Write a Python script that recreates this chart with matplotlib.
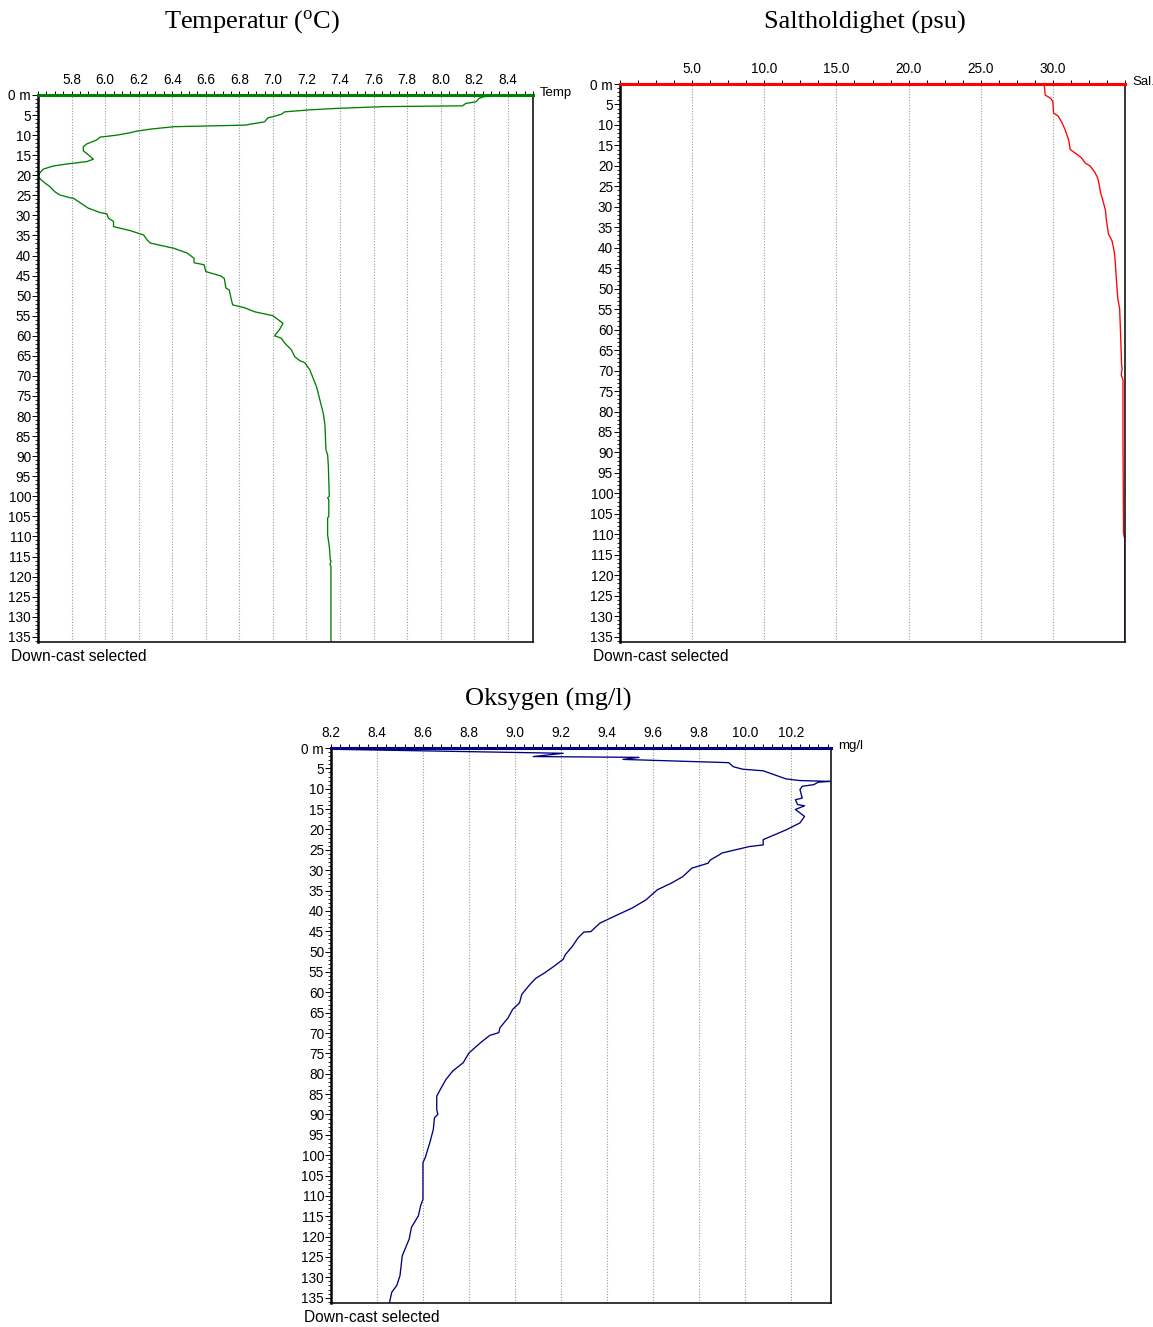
'''
CTD profile plots: temperature, salinity and oxygen against depth
'''
import matplotlib
matplotlib.use('Agg')
import matplotlib.pyplot as plt
from matplotlib.ticker import MultipleLocator

plt.rcParams['font.family'] = ['Liberation Sans', 'DejaVu Sans']
plt.rcParams['mathtext.fontset'] = 'custom'
plt.rcParams['mathtext.rm'] = 'Liberation Serif'

# Temperature profile (depth m, deg C)
temp_depth = [0.0, 0.4, 0.8, 1.7, 2.1, 2.7, 2.9, 3.3, 3.7, 4.2, 4.8, 5.4, 5.7, 6.7,
              7.3, 7.5, 7.9, 8.5, 9.0, 9.4, 10.0, 10.5, 11.2, 12.2, 12.9, 13.9, 14.9,
              16.0, 16.6, 17.2, 17.7, 18.5, 19.5, 20.3, 21.2, 22.2, 22.8, 24.1, 24.9,
              25.6, 25.7, 28.2, 29.3, 29.6, 30.7, 31.5, 32.8, 33.8, 34.9, 36.1, 36.9,
              38.2, 39.4, 40.7, 41.8, 42.3, 44.0, 45.1, 45.7, 48.1, 48.6, 50.6, 52.3,
              53.0, 54.0, 55.0, 56.9, 58.4, 60.0, 60.6, 61.8, 63.5, 65.2, 66.2, 66.7,
              68.5, 72.7, 76.0, 79.3, 82.2, 84.3, 88.4, 89.7, 92.1, 100.0, 100.4,
              100.8, 105.0, 105.4, 109.6, 112.5, 115.8, 116.2, 117.0, 117.5, 136.3]
temp_values = [8.50, 8.26, 8.23, 8.21, 8.15, 8.13, 7.66, 7.40, 7.22, 7.07, 7.05, 7.00,
               6.97, 6.95, 6.86, 6.84, 6.41, 6.27, 6.19, 6.15, 6.07, 5.97, 5.95, 5.89,
               5.87, 5.87, 5.90, 5.93, 5.89, 5.77, 5.69, 5.63, 5.61, 5.60, 5.62, 5.65,
               5.67, 5.70, 5.73, 5.79, 5.81, 5.90, 5.97, 6.01, 6.02, 6.05, 6.05, 6.15,
               6.23, 6.25, 6.27, 6.41, 6.49, 6.53, 6.53, 6.59, 6.60, 6.69, 6.71, 6.72,
               6.74, 6.75, 6.76, 6.83, 6.89, 7.00, 7.06, 7.04, 7.01, 7.05, 7.07, 7.11,
               7.13, 7.16, 7.19, 7.22, 7.26, 7.28, 7.30, 7.31, 7.312, 7.316, 7.326,
               7.33, 7.336, 7.326, 7.333, 7.333, 7.326, 7.326, 7.336, 7.342, 7.346,
               7.34, 7.346, 7.346]

# Salinity profile (depth m, psu)
sal_depth = [0.0, 2.7, 3.5, 4.3, 7.1, 7.8, 9.2, 11.2, 13.7, 16.0, 17.0, 18.0, 19.3,
             20.1, 21.5, 22.9, 24.4, 26.4, 28.9, 30.9, 33.0, 36.6, 38.3, 40.5, 42.3,
             47.5, 52.4, 54.9, 61.8, 68.3, 69.5, 71.1, 72.3, 87.0, 109.8, 111.4, 136.3]
sal_values = [29.4, 29.47, 29.85, 30.0, 30.05, 30.35, 30.6, 30.85, 31.1, 31.2, 31.6,
              31.97, 32.25, 32.6, 32.9, 33.1, 33.2, 33.3, 33.5, 33.65, 33.7, 33.85,
              34.1, 34.23, 34.3, 34.4, 34.5, 34.63, 34.7, 34.76, 34.8, 34.74, 34.86,
              34.86, 34.9, 35.0, 35.0]

# Oxygen profile (depth m, mg/l)
oxy_depth = [0.3, 1.3, 2.1, 2.3, 2.8, 3.6, 4.6, 5.2, 5.6, 7.6, 8.0, 8.2, 8.4, 9.0,
             9.4, 10.2, 12.3, 12.7, 13.9, 14.2, 15.1, 16.8, 18.4, 20.1, 22.5, 23.8,
             24.2, 25.4, 25.8, 26.2, 27.5, 28.3, 29.5, 31.6, 33.2, 34.8, 37.3, 39.3,
             41.4, 43.0, 45.1, 45.2, 46.6, 48.7, 50.7, 51.9, 53.6, 55.2, 56.6, 58.1,
             60.5, 62.6, 64.2, 66.3, 68.7, 69.9, 70.6, 72.4, 74.9, 77.3, 79.3, 81.4,
             83.4, 85.5, 88.8, 90.0, 90.8, 93.7, 96.9, 100.6, 101.8, 103.9, 110.8,
             112.4, 114.9, 117.7, 120.6, 124.7, 129.6, 132.0, 133.7, 136.3]
oxy_values = [8.20, 9.21, 9.08, 9.54, 9.47, 9.93, 9.95, 9.99, 10.08, 10.18, 10.24,
              10.37, 10.32, 10.30, 10.25, 10.24, 10.25, 10.22, 10.23, 10.26, 10.22,
              10.26, 10.24, 10.18, 10.08, 10.08, 10.02, 9.93, 9.90, 9.89, 9.85, 9.84,
              9.77, 9.73, 9.68, 9.62, 9.57, 9.51, 9.43, 9.37, 9.33, 9.30, 9.275, 9.25,
              9.22, 9.21, 9.17, 9.13, 9.09, 9.065, 9.03, 9.02, 8.99, 8.97, 8.935,
              8.93, 8.89, 8.85, 8.80, 8.775, 8.73, 8.70, 8.68, 8.66, 8.66, 8.665,
              8.65, 8.645, 8.63, 8.61, 8.60, 8.60, 8.60, 8.59, 8.58, 8.55, 8.54,
              8.51, 8.50, 8.486, 8.464, 8.454]

depth_ticks = list(range(0, 136, 5))
depth_labels = ['0 m'] + [str(d) for d in depth_ticks[1:]]

temp_ticks = [5.8, 6.0, 6.2, 6.4, 6.6, 6.8, 7.0, 7.2, 7.4, 7.6, 7.8, 8.0, 8.2, 8.4]
sal_ticks = [5.0, 10.0, 15.0, 20.0, 25.0, 30.0]
oxy_ticks = [8.2, 8.4, 8.6, 8.8, 9.0, 9.2, 9.4, 9.6, 9.8, 10.0, 10.2]

W, H = 1153, 1327
fig = plt.figure(figsize=(W / 100, H / 100), dpi=100)


def px_rect(left, top, right, bottom):
    # pixel box -> figure fraction
    return [left / W, 1 - bottom / H, (right - left) / W, (bottom - top) / H]


def profile(box, depth, values, xlim, ticks, minor, color, unit, title, title_xy):
    ax = fig.add_axes(px_rect(*box))
    ax.plot(values, depth, color=color, lw=0.95)
    ax.set_xlim(xlim)
    ax.set_ylim(136.3, 0)

    ax.xaxis.tick_top()
    ax.set_xticks(ticks)
    ax.set_xticklabels(['%.1f' % t for t in ticks])
    ax.xaxis.set_minor_locator(MultipleLocator(minor))
    ax.set_yticks(depth_ticks)
    ax.set_yticklabels(depth_labels)
    ax.yaxis.set_minor_locator(MultipleLocator(1))

    ax.tick_params(axis='x', which='both', direction='out', length=3, width=0.7,
                   labelsize=9.8, pad=3)
    ax.tick_params(axis='y', which='major', direction='out', length=4, width=0.7,
                   labelsize=9.8, pad=1)
    ax.tick_params(axis='y', which='minor', direction='out', length=2, width=0.6)

    ax.grid(axis='x', which='major', color='#9a9a9a', lw=0.8, linestyle=(0, (1, 1.5)))

    ax.spines['top'].set_color(color)
    ax.spines['top'].set_linewidth(2.2)
    ax.spines['left'].set_linewidth(1.8)
    ax.spines['right'].set_linewidth(1.1)
    ax.spines['bottom'].set_linewidth(1.1)

    left, top, right, bottom = box
    fig.text((right + 7) / W, 1 - (top - 2) / H, unit, fontsize=9.5,
             ha='left', va='center')
    fig.text((left - 27) / W, 1 - (bottom + 15) / H, 'Down-cast selected',
             fontsize=11.2, ha='left', va='center')
    fig.text(title_xy[0] / W, 1 - title_xy[1] / H, title, fontsize=19,
             family='Liberation Serif', ha='center', va='center')
    return ax


profile((38, 95, 533, 642), temp_depth, temp_values, (5.6, 8.55), temp_ticks, 0.05,
        '#008000', 'Temp', r'Temperatur ($\mathrm{^{o}}$C)', (252, 22))
profile((620, 84, 1125, 642), sal_depth, sal_values, (0, 35), sal_ticks, 1.25,
        '#ff0000', 'Sal.', 'Saltholdighet (psu)', (865, 22))
profile((331, 748, 831, 1303), oxy_depth, oxy_values, (8.2, 10.375), oxy_ticks, 0.04,
        '#000080', 'mg/l', 'Oksygen (mg/l)', (548, 699))

fig.savefig('out.png', dpi=100)
